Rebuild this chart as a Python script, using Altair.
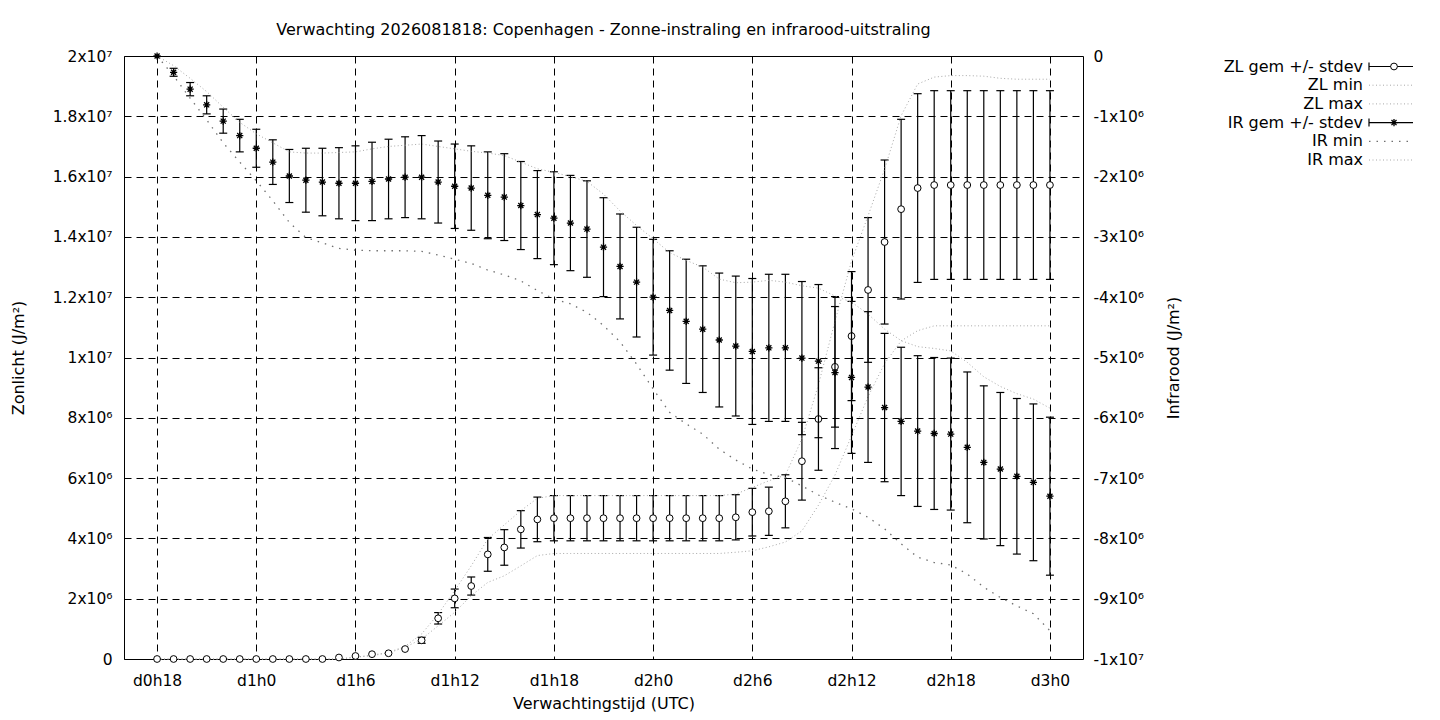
import altair as alt
import pandas as pd

# ---------------- data (values in units of 1e6 J/m2) ----------------
hours = list(range(18, 73))  # forecast hour 18 (d0h18) .. 72 (d3h0)

zl_mean = [0.0, 0.0, 0.0, 0.0, 0.0, 0.0, 0.0, 0.0, 0.0, 0.0, 0.0,
           0.05, 0.10, 0.16, 0.19, 0.33, 0.62, 1.35, 2.01, 2.42, 3.47, 3.70, 4.30, 4.63,
           4.67, 4.67, 4.67, 4.67, 4.67, 4.67, 4.67, 4.67, 4.67, 4.67, 4.67,
           4.70, 4.87, 4.90, 5.23, 6.56, 7.96, 9.69, 10.71, 12.24, 13.83, 14.92, 15.62,
           15.72, 15.72, 15.72, 15.72, 15.72, 15.72, 15.72, 15.72]
zl_sd = [0.0, 0.0, 0.0, 0.0, 0.0, 0.0, 0.0, 0.0, 0.0, 0.0, 0.0,
         0.0, 0.0, 0.0, 0.0, 0.0, 0.10, 0.19, 0.31, 0.30, 0.56, 0.59, 0.62, 0.74,
         0.75, 0.75, 0.75, 0.75, 0.75, 0.75, 0.75, 0.75, 0.75, 0.75, 0.75,
         0.75, 0.79, 0.80, 0.88, 1.29, 1.70, 2.00, 2.14, 2.40, 2.72, 2.98, 3.13,
         3.13, 3.13, 3.13, 3.13, 3.13, 3.13, 3.13, 3.13]
zl_min = [0.0, 0.0, 0.0, 0.0, 0.0, 0.0, 0.0, 0.0, 0.0, 0.0, 0.0, 0.0,
          0.06, 0.11, 0.20, 0.39, 0.66, 1.10, 1.55, 2.10, 2.54, 2.76, 3.09, 3.43,
          3.50, 3.50, 3.50, 3.50, 3.50, 3.50, 3.50, 3.50, 3.50, 3.50, 3.50,
          3.54, 3.59, 3.72, 3.88, 4.25, 5.10, 6.10, 7.40, 8.70, 9.80, 10.55, 10.89,
          11.05, 11.05, 11.05, 11.05, 11.05, 11.05, 11.05, 11.05]
zl_max = [0.0, 0.0, 0.0, 0.0, 0.0, 0.0, 0.0, 0.0, 0.0, 0.0, 0.0, 0.0,
          0.06, 0.13, 0.22, 0.42, 0.83, 1.49, 2.27, 3.09, 3.98, 4.45, 4.92, 5.33,
          5.42, 5.42, 5.42, 5.42, 5.42, 5.42, 5.42, 5.42, 5.42, 5.42, 5.42,
          5.47, 5.69, 5.91, 6.10, 7.30, 9.10, 11.20, 13.20, 14.70, 16.25, 18.02, 19.07,
          19.30, 19.35, 19.35, 19.33, 19.26, 19.23, 19.23, 19.23]

ir_mean = [0.0, -0.27, -0.55, -0.81, -1.08, -1.32, -1.53, -1.76, -1.99, -2.06,
           -2.09, -2.11, -2.11, -2.08, -2.04, -2.01, -2.01, -2.09, -2.16, -2.19,
           -2.31, -2.34, -2.48, -2.63, -2.69, -2.77, -2.87, -3.17, -3.49, -3.75,
           -4.00, -4.22, -4.40, -4.53, -4.71, -4.81, -4.90, -4.84, -4.84, -5.01,
           -5.06, -5.25, -5.33, -5.49, -5.83, -6.06, -6.22, -6.26, -6.27, -6.49,
           -6.74, -6.85, -6.97, -7.07, -7.30]
ir_sd = [0.0, 0.066, 0.11, 0.15, 0.20, 0.27, 0.315, 0.37, 0.44, 0.53,
         0.56, 0.59, 0.62, 0.65, 0.66, 0.67, 0.69, 0.68, 0.70, 0.70,
         0.72, 0.72, 0.73, 0.73, 0.77, 0.79, 0.80, 0.82, 0.87, 0.91,
         0.96, 0.99, 1.03, 1.05, 1.11, 1.16, 1.21, 1.22, 1.22, 1.27,
         1.27, 1.26, 1.26, 1.25, 1.23, 1.23, 1.25, 1.26, 1.26, 1.25,
         1.27, 1.27, 1.29, 1.30, 1.31]
ir_min = [0.0, -0.33, -0.70, -1.06, -1.44, -1.76, -2.07, -2.40, -2.76, -3.01,
          -3.10, -3.19, -3.22, -3.23, -3.23, -3.23, -3.24, -3.30, -3.37, -3.44,
          -3.55, -3.63, -3.73, -3.89, -4.03, -4.11, -4.25, -4.47, -4.74, -5.11,
          -5.52, -5.91, -6.10, -6.27, -6.52, -6.70, -6.85, -6.94, -6.99, -7.13,
          -7.28, -7.40, -7.51, -7.65, -7.84, -8.09, -8.31, -8.40, -8.44, -8.59,
          -8.81, -8.98, -9.12, -9.25, -9.53]
ir_max = [0.0, -0.16, -0.37, -0.59, -0.85, -1.10, -1.29, -1.44, -1.59, -1.61,
          -1.61, -1.60, -1.59, -1.54, -1.50, -1.48, -1.46, -1.50, -1.54, -1.58,
          -1.61, -1.65, -1.76, -1.87, -1.93, -2.00, -2.08, -2.29, -2.57, -2.81,
          -3.03, -3.26, -3.39, -3.50, -3.70, -3.76, -3.75, -3.72, -3.75, -3.81,
          -3.85, -3.98, -4.08, -4.28, -4.53, -4.72, -4.82, -4.85, -4.89, -5.08,
          -5.32, -5.48, -5.60, -5.69, -5.84]

x_tick_hours = [18, 24, 30, 36, 42, 48, 54, 60, 66, 72]
left_ticks = [0, 2e6, 4e6, 6e6, 8e6, 1e7, 1.2e7, 1.4e7, 1.6e7, 1.8e7, 2e7]
left_labels = ["0", "2x10⁶", "4x10⁶", "6x10⁶", "8x10⁶", "1x10⁷",
               "1.2x10⁷", "1.4x10⁷", "1.6x10⁷", "1.8x10⁷", "2x10⁷"]
right_ticks = [0, -1e6, -2e6, -3e6, -4e6, -5e6, -6e6, -7e6, -8e6, -9e6, -1e7]
right_labels = ["0", "-1x10⁶", "-2x10⁶", "-3x10⁶", "-4x10⁶", "-5x10⁶",
                "-6x10⁶", "-7x10⁶", "-8x10⁶", "-9x10⁶", "-1x10⁷"]
legend_labels = ["ZL gem +/- stdev", "ZL min", "ZL max",
                 "IR gem +/- stdev", "IR min", "IR max"]

E = 1e6
df = pd.DataFrame({
    "h": hours,
    "zl": [v * E for v in zl_mean],
    "zl_sd": [v * E for v in zl_sd],
    "zl_min": [v * E for v in zl_min],
    "zl_max": [v * E for v in zl_max],
    "ir": [v * E for v in ir_mean],
    "ir_sd": [v * E for v in ir_sd],
    "ir_min": [v * E for v in ir_min],
    "ir_max": [v * E for v in ir_max],
})
df["zl_lo"] = df["zl"] - df["zl_sd"]
df["zl_hi"] = df["zl"] + df["zl_sd"]
df["ir_lo"] = df["ir"] - df["ir_sd"]
df["ir_hi"] = df["ir"] + df["ir_sd"]

FONT = "DejaVu Sans"
FS = 16       # titles / legend
FS_TICK = 15.5
GRID_DASH = [7, 5]
STAR = "M-1,0L1,0M0,-1L0,1M-0.7,-0.7L0.7,0.7M-0.7,0.7L0.7,-0.7"
LIGHT = "#a8a8a8"
DARK = "#707070"

def arr_expr(labels, divisor):
    return "[" + ",".join("'%s'" % l for l in labels) + "][round(datum.value/(%s))]" % divisor

x_axis = alt.Axis(values=x_tick_hours,
                  labelExpr="'d' + floor(datum.value/24) + 'h' + (datum.value % 24)",
                  grid=True, gridDash=GRID_DASH, gridColor="black", gridOpacity=1,
                  ticks=False, domain=False, labelPadding=14,
                  title="Verwachtingstijd (UTC)", titlePadding=7)
xenc = alt.X("h:Q", scale=alt.Scale(domain=[16, 74], nice=False, zero=False), axis=x_axis)
xenc2 = alt.X2("h")

yl_axis = alt.Axis(orient="left", values=left_ticks, labelExpr=arr_expr(left_labels, "2000000"),
                   grid=True, gridDash=GRID_DASH, gridColor="black", gridOpacity=1,
                   ticks=False, domain=False, labelPadding=12,
                   title="Zonlicht (J/m²)", titlePadding=26)
yl_scale = alt.Scale(domain=[0, 2e7], nice=False, zero=False)

yr_axis = alt.Axis(orient="right", values=right_ticks, labelExpr=arr_expr(right_labels, "-1000000"),
                   grid=False, ticks=False, domain=False, labelPadding=10,
                   title="Infrarood (J/m²)", titleAngle=270, titlePadding=38)
yr_scale = alt.Scale(domain=[-1e7, 0], nice=False, zero=False)

def yl(field):
    return alt.Y(field + ":Q", scale=yl_scale, axis=yl_axis)

def yr(field):
    return alt.Y(field + ":Q", scale=yr_scale, axis=yr_axis)

base = alt.Chart(df)

# ---- Zonlicht ----
zl_bar = base.transform_filter("datum.zl_sd > 0").mark_rule(color="black", strokeWidth=1.2).encode(
    x=xenc, y=yl("zl_lo"), y2=alt.Y2("zl_hi"))
zl_cap_lo = base.transform_filter("datum.zl_sd > 0").mark_rule(
    color="black", strokeWidth=1.2, xOffset=-4, x2Offset=4).encode(x=xenc, x2=xenc2, y=yl("zl_lo"))
zl_cap_hi = base.transform_filter("datum.zl_sd > 0").mark_rule(
    color="black", strokeWidth=1.2, xOffset=-4, x2Offset=4).encode(x=xenc, x2=xenc2, y=yl("zl_hi"))
zl_minl = base.mark_line(color=LIGHT, strokeDash=[1, 2.5], strokeWidth=1).encode(x=xenc, y=yl("zl_min"))
zl_maxl = base.mark_line(color=LIGHT, strokeDash=[1, 2.5], strokeWidth=1).encode(x=xenc, y=yl("zl_max"))
zl_pts = base.mark_point(shape="circle", size=46, filled=False, fill="white", fillOpacity=1,
                         color="black", strokeWidth=1, opacity=1).encode(x=xenc, y=yl("zl"))
zl_layer = alt.layer(zl_bar, zl_cap_lo, zl_cap_hi, zl_minl, zl_maxl, zl_pts)

# ---- Infrarood ----
ir_bar = base.transform_filter("datum.ir_sd > 0").mark_rule(color="black", strokeWidth=1.2).encode(
    x=xenc, y=yr("ir_lo"), y2=alt.Y2("ir_hi"))
ir_cap_lo = base.transform_filter("datum.ir_sd > 0").mark_rule(
    color="black", strokeWidth=1.2, xOffset=-4, x2Offset=4).encode(x=xenc, x2=xenc2, y=yr("ir_lo"))
ir_cap_hi = base.transform_filter("datum.ir_sd > 0").mark_rule(
    color="black", strokeWidth=1.2, xOffset=-4, x2Offset=4).encode(x=xenc, x2=xenc2, y=yr("ir_hi"))
ir_minl = base.mark_line(color=DARK, strokeDash=[1.5, 6], strokeWidth=1.3).encode(x=xenc, y=yr("ir_min"))
ir_maxl = base.mark_line(color=LIGHT, strokeDash=[1, 2.5], strokeWidth=1).encode(x=xenc, y=yr("ir_max"))
ir_pts = base.mark_point(shape=STAR, size=52, filled=False, color="black", strokeWidth=1.3,
                         opacity=1).encode(x=xenc, y=yr("ir"))
ir_layer = alt.layer(ir_bar, ir_cap_lo, ir_cap_hi, ir_minl, ir_maxl, ir_pts)

# ---- manual legend (right of plot, gnuplot style: label then sample) ----
LX_TEXT = 1239
LX0, LX1, LXC = 1245, 1295, 1270
LY = [10.5, 29.2, 47.9, 66.6, 85.3, 104]
one = pd.DataFrame({"k": [0]})
leg = []
for i, lab in enumerate(legend_labels):
    leg.append(alt.Chart(one).mark_text(align="right", baseline="middle", font=FONT, fontSize=FS,
                                        color="black").encode(
        x=alt.value(LX_TEXT), y=alt.value(LY[i]), text=alt.value(lab)))
for i in (0, 3):
    y = LY[i]
    leg.append(alt.Chart(one).mark_rule(color="black", strokeWidth=1.2).encode(
        x=alt.value(LX0), x2=alt.value(LX1), y=alt.value(y)))
    leg.append(alt.Chart(one).mark_rule(color="black", strokeWidth=1.2).encode(
        x=alt.value(LX0), y=alt.value(y - 4), y2=alt.value(y + 4)))
    leg.append(alt.Chart(one).mark_rule(color="black", strokeWidth=1.2).encode(
        x=alt.value(LX1), y=alt.value(y - 4), y2=alt.value(y + 4)))
leg.append(alt.Chart(one).mark_point(shape="circle", size=46, filled=False, fill="white", fillOpacity=1,
                                     color="black", strokeWidth=1, opacity=1).encode(
    x=alt.value(LXC), y=alt.value(LY[0])))
leg.append(alt.Chart(one).mark_point(shape=STAR, size=52, filled=False, color="black",
                                     strokeWidth=1.3, opacity=1).encode(
    x=alt.value(LXC), y=alt.value(LY[3])))
for i, col, dash, sw in [(1, LIGHT, [1, 2.5], 1), (2, LIGHT, [1, 2.5], 1),
                         (4, DARK, [1.5, 6], 1.3), (5, LIGHT, [1, 2.5], 1)]:
    leg.append(alt.Chart(one).mark_rule(color=col, strokeDash=dash, strokeWidth=sw).encode(
        x=alt.value(LX0), x2=alt.value(LX1), y=alt.value(LY[i])))
legend_layer = alt.layer(*leg)

chart = alt.layer(zl_layer, ir_layer, legend_layer).resolve_scale(y="independent").properties(
    width=959, height=603,
    autosize=alt.AutoSizeParams(type="none"),
    padding={"left": 116, "top": 48, "right": 330, "bottom": 53},
    title=alt.TitleParams("Verwachting 2026081818: Copenhagen - Zonne-instraling en infrarood-uitstraling",
                          anchor="middle", offset=11, font=FONT, fontSize=FS, fontWeight="normal",
                          color="black"),
).configure_view(stroke="black", strokeWidth=1).configure_axis(
    labelFont=FONT, labelFontSize=FS_TICK, labelColor="black",
    titleFont=FONT, titleFontSize=FS, titleFontWeight="normal", titleColor="black",
)

chart.save("out.html", embed_options={"renderer": "svg", "actions": False})
